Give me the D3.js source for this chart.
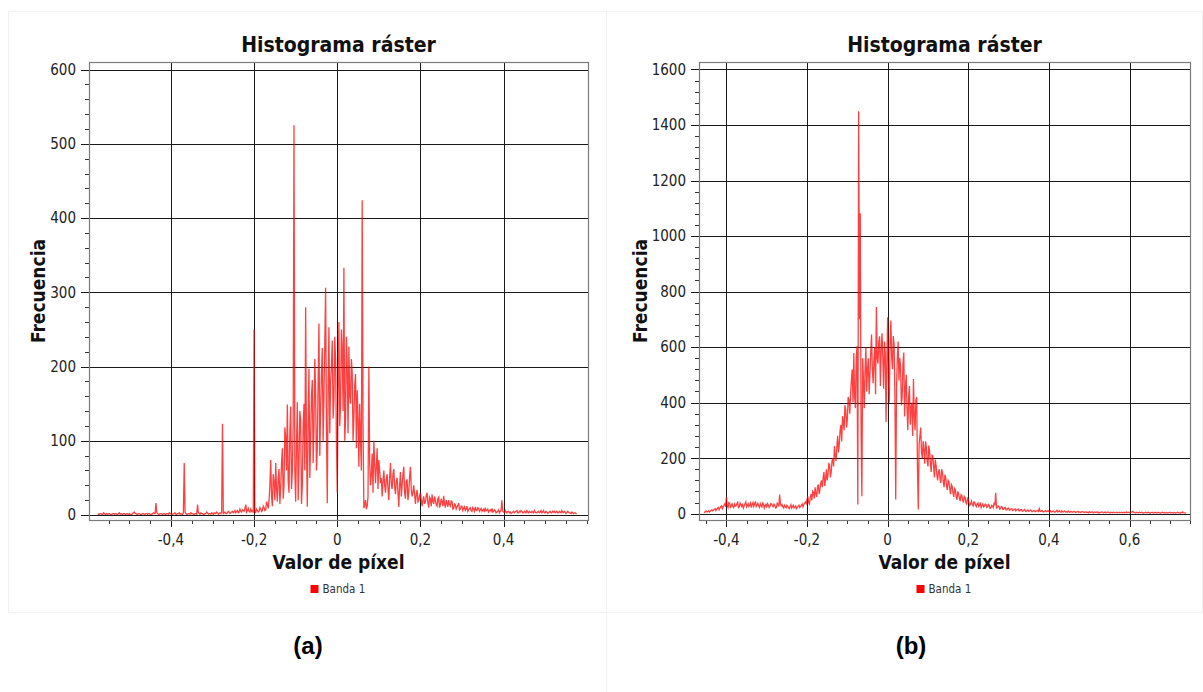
<!DOCTYPE html>
<html><head><meta charset="utf-8">
<script src="https://cdn.jsdelivr.net/npm/d3@7"></script>
<style>body{margin:0;background:#fff}svg{display:block}</style>
</head><body>
<svg id="c" width="1203" height="692"></svg>
<script>
// ---------- DATA ----------
const titleText = "Histograma ráster";
const xLabel = "Valor de píxel";
const yLabel = "Frecuencia";
const legendLabel = "Banda 1";
const panelLabels = ["(a)", "(b)"];

// chart (a): histogram range (first and last bin) and counts
const binStartA = -0.576, binEndA = 0.576;
const countsA = [
 2,1, 1,2, 2,1, 1,3, 2,1, 1,2, 1,2, 2,1, 1,1, 2,2,
 1,2, 2,1, 1,2, 3,1, 2,1, 1,2, 2,1, 1,2, 1,1, 2,1,
 1,1, 2,3, 4,2, 2,1, 1,2, 2,1, 1,1, 2,2, 1,1, 2,2,
 1,2, 2,1, 1,1, 2,3, 2,2, 16,3, 2,1, 1,2, 2,1, 1,2,
 2,1, 1,2, 2,1, 3,2, 2,1, 1,2, 2,3, 1,1, 2,2, 3,1,
 2,1, 1,3, 70,4, 2,1, 1,2, 2,1, 3,2, 2,1, 1,2, 2,1,
 14,3, 2,1, 3,2, 2,1, 1,2, 2,4, 3,1, 2,2, 1,3, 2,1,
 3,2, 2,4, 3,1, 2,3, 2,3, 123,2, 3,4, 2,2, 3,5, 4,2,
 3,4, 5,3, 4,6, 3,5, 6,3, 4,8, 5,4, 7,6, 5,9, 14,4,
 6,9, 5,4, 8,5, 6,3,
 250,3, 4,8, 6,4, 5,10, 8,5, 6,12, 10,6, 7,18, 14,9, 20,40,
 74,25, 12,55, 45,20, 70,35, 18,48, 62,15, 35,70, 90,22, 40,118, 105,60,
 149,45, 30,110, 146,35, 60,120, 525,60, 18,95, 152,20, 70,140, 128,15, 40,120,
 150,60, 280,90, 11,130, 197,50, 100,160, 182,70, 120,210, 165,60, 90,180, 258,80,
 140,190, 225,100, 160,230, 306,120, 16,170, 253,110, 180,200, 235,130, 155,240, 208,100,
 30,170, 260,120, 150,250, 222,140, 333,100, 130,240, 200,110, 227,160, 150,210, 191,100,
 132,175, 190,90, 168,130, 65,150, 100,60, 424,120, 9,15, 20,8, 12,25, 200,70,
 40,55, 83,30, 100,70, 43,65, 90,35, 74,60, 43,50,
 25,45, 60,40, 30,48, 55,35, 20,50, 70,42, 35,55, 62,38, 28,45, 50,30,
 11,40, 58,25, 40,55, 65,30, 22,45, 48,20, 30,52, 65,35, 25,30, 40,28,
 15,28, 34,18, 20,26, 30,20,
 12,20, 25,15, 18,26, 30,16, 10,24, 22,12, 28,18, 15,25, 20,14, 12,22,
 24,10, 14,22, 18,12, 26,15, 10,20, 16,11, 20,14, 12,19, 18,8, 9,15,
 14,8, 11,13, 16,7, 8,12, 12,6,
 9,11, 6,8, 12,5, 7,9, 10,6, 5,10, 8,5, 11,7, 6,10, 9,5,
 7,9, 5,7, 8,4, 10,6, 6,8, 4,6, 7,5, 9,4, 5,7, 6,3,
 4,5, 7,3, 5,6, 20,5,
 4,3, 6,4, 3,5, 5,3, 4,2, 3,4, 5,3, 4,5, 6,3, 3,5,
 4,6, 5,3, 3,5, 4,3, 6,4, 3,5, 4,3, 5,4, 3,6, 4,3,
 3,4, 5,3, 4,6, 3,4, 6,3, 3,5, 4,2, 3,4, 5,3, 3,5,
 4,5, 3,4, 5,3, 3,5, 4,3, 6,4, 3,5, 4,2, 3,5, 4,3,
 3,2, 4,3, 2,3, 3,2, 2
];

// chart (b)
const binStartB = -0.456, binEndB = 0.740;
const countsB = [
 5,4, 8,9, 6,7, 10,6, 9,12, 14,10, 12,16, 18,11, 15,20, 22,14,
 20,25, 28,18, 25,30, 35,24, 60,30, 22,40, 38,20, 30,35, 26,22, 34,27,
 28,35, 40,22, 24,38, 32,26, 36,20, 27,35, 42,24, 30,36, 25,30, 38,22,
 33,40, 26,35, 44,25, 30,37, 28,22, 36,29, 24,38, 34,20, 29,33, 22,36,
 31,22, 27,36, 35,28, 25,34, 30,20, 22,38, 33,26, 69,35, 28,32, 24,20,
 30,24, 21,30, 27,20, 18,26, 32,20, 25,30, 20,24, 28,18, 23,27, 30,22,
 26,30, 35,25, 32,38, 42,36,
 51,62, 40,35, 58,70, 48,80, 75,55, 95,72, 60,98, 105,70, 85,110, 120,95,
 130,150, 100,125, 160,120, 140,180, 177,130, 150,190, 200,170, 243,210, 190,240, 280,220,
 250,300, 320,260, 351,330, 300,390, 375,310, 340,420, 410,360, 429,480, 519,400, 579,420,
 380,560, 603,33, 1450,700, 1082,300, 63,560, 480,380, 520,600, 440,520, 560,430, 500,580,
 645,520, 470,560, 600,430, 744,560, 540,620, 639,460, 590,650, 560,450, 620,580, 330,550,
 707,480, 400,620, 696,560, 520,640, 610,420, 51,450, 560,620, 480,560, 530,390, 420,540,
 580,350, 450,500, 380,300, 420,460, 320,380, 400,280, 485,350, 300,410, 419,160, 15,250,
 280,310, 220,200, 261,230, 180,260, 240,190, 170,245, 225,180, 150,210, 207,170, 130,195,
 175,140, 120,150, 160,125, 110,160, 148,115, 95,140, 130,100, 85,120, 115,90, 70,105,
 99,75, 60,90, 85,62, 50,80, 72,55, 45,68, 65,48, 40,62, 58,40, 35,55,
 51,38,
 30,36, 45,32, 28,42, 40,30, 25,35, 38,26, 30,40, 22,30, 35,24, 27,34,
 32,22, 24,33, 30,19, 20,30, 28,22, 40,30, 75,20, 22,28, 26,16, 18,25,
 24,15, 16,21, 22,13, 15,19, 20,12, 14,17, 18,11, 12,16, 17,10, 13,15,
 16,10, 11,14, 14,9, 10,13, 15,8, 9,12, 13,8, 10,13, 12,7, 8,11,
 11,7, 9,10, 12,8, 18,9, 8,11, 10,6, 7,9, 11,7, 9,10, 8,6,
 10,6, 7,9, 9,5, 6,8, 12,6, 8,10, 7,5, 10,7, 6,9, 8,5,
 7,5, 9,6, 5,7, 8,5, 6,8, 7,4, 5,7, 8,5, 6,4, 5,7,
 7,5, 4,6, 6,4, 5,3, 7,5, 4,6, 6,3, 5,6, 4,5, 6,3,
 5,3, 4,5, 6,4, 3,5, 5,3, 4,6, 5,3, 3,5, 4,3, 5,4,
 3,4, 5,3, 4,5, 3,4, 5,3, 4,5, 3,4, 6,3, 4,5, 3,4,
 5,6, 8,5, 4,3, 3,5, 4,3, 5,4, 3,5, 4,2, 3,4, 5,3,
 3,5, 4,2, 3,4, 5,3, 3,4, 4,3, 2,4, 4,3, 3,2, 4,5,
 3,4, 2,3, 4,2, 3,4, 5,3, 3,4, 2,3, 4,2, 3,4, 5,3,
 3,2, 4,3, 6,4, 3,3, 2
];

const xTicksA = [-0.4, -0.2, 0, 0.2, 0.4];
const xTicksB = [-0.4, -0.2, 0, 0.2, 0.4, 0.6];
const yTicksA = [0, 100, 200, 300, 400, 500, 600];
const yTicksB = [0, 200, 400, 600, 800, 1000, 1200, 1400, 1600];

// ---------- LAYOUT ----------
const charts = [
  {counts: countsA, binStart: binStartA, binEnd: binEndA, xTicks: xTicksA, yTicks: yTicksA,
   xDomain: [-0.597, 0.603], yDomain: [-6.7, 610.2], xMinor: 0.05, yMinor: 20,
   left: 89, right: 588, top: 62, bottom: 520, yTitleX: 38, label: panelLabels[0], labelX: 308},
  {counts: countsB, binStart: binStartB, binEnd: binEndB, xTicks: xTicksB, yTicks: yTicksB,
   xDomain: [-0.468, 0.750], yDomain: [-23, 1627], xMinor: 0.05, yMinor: 40,
   left: 699, right: 1190, top: 62, bottom: 520, yTitleX: 640, label: panelLabels[1], labelX: 911}
];

const locale = d3.formatLocale({decimal: ",", thousands: "", grouping: [3], currency: ["", ""], minus: "-"});
const fmtX = v => Math.abs(v) < 1e-9 ? "0" : locale.format(".1f")(v);

const svg = d3.select("#c");
const TICKFONT = "'DejaVu Sans Condensed', 'DejaVu Sans', sans-serif";

// faint page cells
svg.append("rect").attr("x", 8.5).attr("y", 11.5).attr("width", 598).attr("height", 601)
  .attr("fill", "none").attr("stroke", "#f1f1f1");
svg.append("rect").attr("x", 606.5).attr("y", 11.5).attr("width", 596).attr("height", 601)
  .attr("fill", "none").attr("stroke", "#f1f1f1");
svg.append("line").attr("x1", 606.5).attr("x2", 606.5).attr("y1", 612).attr("y2", 692).attr("stroke", "#f3f3f3");

charts.forEach((c, ci) => {
  const g = svg.append("g");
  const x = d3.scaleLinear().domain(c.xDomain).range([c.left, c.right]);
  const y = d3.scaleLinear().domain(c.yDomain).range([c.bottom, c.top]);
  const binX = d3.scaleLinear().domain([0, c.counts.length - 1]).range([c.binStart, c.binEnd]);
  const px = v => Math.round(v) + 0.5;

  // vertical gridlines
  g.selectAll(".vg").data(c.xTicks).join("line")
    .attr("x1", d => px(x(d))).attr("x2", d => px(x(d)))
    .attr("y1", c.top).attr("y2", c.bottom + 7)
    .attr("stroke", "#1a1a1a").attr("stroke-width", 1);
  // horizontal gridlines (extending left as major ticks)
  g.selectAll(".hg").data(c.yTicks).join("line")
    .attr("x1", c.left - 8).attr("x2", c.right)
    .attr("y1", d => px(y(d))).attr("y2", d => px(y(d)))
    .attr("stroke", "#1a1a1a").attr("stroke-width", 1);

  // minor ticks
  const xm = d3.range(Math.ceil(c.xDomain[0] / c.xMinor), Math.floor(c.xDomain[1] / c.xMinor) + 1)
    .map(k => k * c.xMinor).filter(v => !c.xTicks.some(t => Math.abs(t - v) < 1e-9));
  g.selectAll(".xm").data(xm).join("line")
    .attr("x1", d => px(x(d))).attr("x2", d => px(x(d)))
    .attr("y1", c.bottom).attr("y2", c.bottom + 4)
    .attr("stroke", "#333");
  const ym = d3.range(0, Math.floor(c.yDomain[1] / c.yMinor) + 1)
    .map(k => k * c.yMinor).filter(v => !c.yTicks.includes(v));
  g.selectAll(".ym").data(ym).join("line")
    .attr("x1", c.left - 4).attr("x2", c.left)
    .attr("y1", d => px(y(d))).attr("y2", d => px(y(d)))
    .attr("stroke", "#333");

  // data line
  const clipId = "clip" + ci;
  g.append("clipPath").attr("id", clipId).append("rect")
    .attr("x", c.left).attr("y", c.top).attr("width", c.right - c.left).attr("height", c.bottom - c.top);
  const line = d3.line()
    .x((d, i) => x(binX(i)))
    .y(d => y(d));
  g.append("path").datum(c.counts)
    .attr("clip-path", `url(#${clipId})`)
    .attr("d", line)
    .attr("fill", "none")
    .attr("stroke", "#ff0000").attr("stroke-opacity", 0.75)
    .attr("stroke-width", 1.3).attr("stroke-linejoin", "miter");

  // frame
  g.append("rect").attr("x", c.left + 0.5).attr("y", c.top + 0.5)
    .attr("width", c.right - c.left).attr("height", c.bottom - c.top)
    .attr("fill", "none").attr("stroke", "#7a7a7a").attr("stroke-width", 1.2);

  // tick labels
  g.selectAll(".yl").data(c.yTicks).join("text")
    .attr("x", c.left - 13).attr("y", d => y(d)).attr("dy", "0.36em")
    .attr("text-anchor", "end").attr("font-family", TICKFONT).attr("font-size", 15)
    .attr("fill", "#222").text(d => d);
  g.selectAll(".xl").data(c.xTicks).join("text")
    .attr("x", d => x(d)).attr("y", 545)
    .attr("text-anchor", "middle").attr("font-family", TICKFONT).attr("font-size", 15)
    .attr("fill", "#222").text(fmtX);

  const cx = (c.left + c.right) / 2;
  // title
  g.append("text").attr("x", cx).attr("y", 52).attr("text-anchor", "middle")
    .attr("font-family", TICKFONT).attr("font-weight", "bold").attr("font-size", 21)
    .attr("fill", "#111").text(titleText);
  // x title
  g.append("text").attr("x", cx).attr("y", 569).attr("text-anchor", "middle")
    .attr("font-family", TICKFONT).attr("font-weight", "bold").attr("font-size", 19)
    .attr("fill", "#111").text(xLabel);
  // y title
  g.append("text").attr("transform", `translate(${c.yTitleX + 7},${(c.top + c.bottom) / 2}) rotate(-90)`)
    .attr("text-anchor", "middle")
    .attr("font-family", TICKFONT).attr("font-weight", "bold").attr("font-size", 19)
    .attr("fill", "#111").text(yLabel);
  // legend
  const lg = g.append("g").attr("transform", `translate(${cx - 28},589)`);
  lg.append("rect").attr("x", 0).attr("y", -4).attr("width", 8).attr("height", 8).attr("fill", "#ff0000");
  lg.append("text").attr("x", 12).attr("y", 0).attr("dy", "0.36em")
    .attr("font-family", TICKFONT).attr("font-size", 11.5).attr("fill", "#333").text(legendLabel);

  // panel label
  svg.append("text").attr("x", c.labelX).attr("y", 654).attr("text-anchor", "middle")
    .attr("font-family", "'Liberation Sans', Arial, sans-serif").attr("font-weight", "bold")
    .attr("font-size", 24).attr("fill", "#000").text(c.label);
});
</script>
</body></html>
